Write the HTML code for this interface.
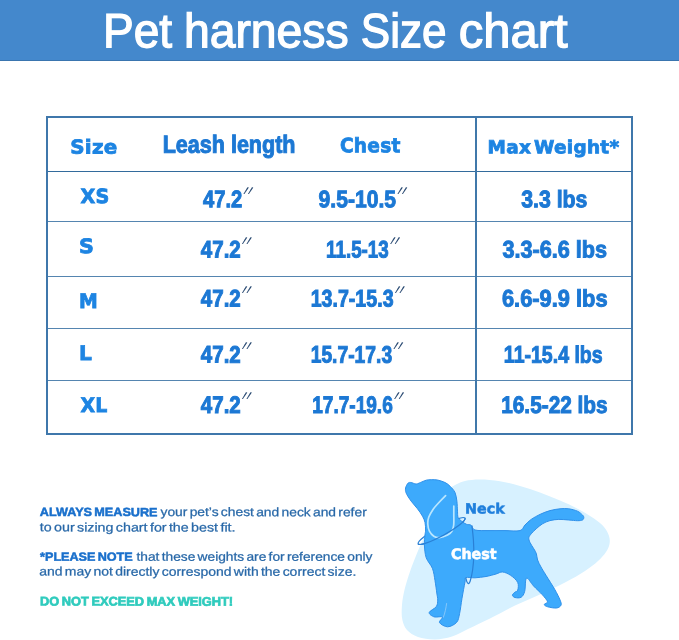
<!DOCTYPE html>
<html lang="en">
<head>
<meta charset="utf-8">
<title>Pet harness Size chart</title>
<style>
*{box-sizing:border-box}
html,body{margin:0;padding:0;background:#fff}
#page{position:relative;width:679px;height:640px;overflow:hidden;background:#fff;font-family:"Liberation Sans",sans-serif}
.bar{display:block;height:60.5px;background:#4488cc;border-bottom:1.5px solid #3a75af}
.t{position:absolute;left:0;top:0;margin:0;padding:0;line-height:1;white-space:nowrap;transform-origin:0 0;font-weight:400}
.notes p{margin:0}
h1{margin:0;font-size:48px;font-weight:400}
.frame{position:absolute;left:46px;top:116px;width:587px;height:319px;border:2px solid #3f77ab}
.hl{position:absolute;left:48px;width:583px;height:1px;background:#5585b0}
.vl{position:absolute;left:475px;top:118px;width:2px;height:316px;background:#4078aa}
.dog{position:absolute;left:390px;top:460px;width:240px;height:180px;margin:0}
.dog svg{display:block}
</style>
</head>
<body>
<div id="page">
<header class="bar">
<h1>
<span class="t" style="font-size:48.22px;transform:translate(103.1px,6.27px) rotate(0.05deg) scaleX(0.954);font-family:'Liberation Sans', sans-serif;font-weight:400;color:#fff;-webkit-text-stroke:1.3px #fff;">Pet</span>
<span class="t" style="font-size:48.22px;transform:translate(183.96px,6.27px) rotate(0.05deg) scaleX(0.9604);font-family:'Liberation Sans', sans-serif;font-weight:400;color:#fff;-webkit-text-stroke:1.3px #fff;">harness</span>
<span class="t" style="font-size:48.22px;transform:translate(360.83px,6.27px) rotate(0.05deg) scaleX(0.9135);font-family:'Liberation Sans', sans-serif;font-weight:400;color:#fff;-webkit-text-stroke:1.3px #fff;">Size</span>
<span class="t" style="font-size:48.22px;transform:translate(458.83px,6.27px) rotate(0.05deg) scaleX(1.0155);font-family:'Liberation Sans', sans-serif;font-weight:400;color:#fff;-webkit-text-stroke:1.3px #fff;">chart</span>
</h1>
</header>
<section class="chart">
<div class="frame"></div>
<div class="hl" style="top:170.5px;height:1.7px;background:#336b9c"></div>
<div class="hl" style="top:221px"></div>
<div class="hl" style="top:276px"></div>
<div class="hl" style="top:328px"></div>
<div class="hl" style="top:380px"></div>
<div class="vl"></div>
<div class="thead">
<div class="t" style="font-size:19.1px;transform:translate(70.16px,137.41px) rotate(0.05deg) scaleX(1.0423);font-family:'DejaVu Sans', 'Liberation Sans', sans-serif;font-weight:700;color:#1d84e2;-webkit-text-stroke:0.8px #1d84e2;letter-spacing:0.3px;">Size</div>
<div class="t" style="font-size:24.75px;transform:translate(162.71px,132.71px) rotate(0.05deg) scaleX(0.8699);font-family:'Liberation Sans', sans-serif;font-weight:700;color:#1c78d4;-webkit-text-stroke:1.0px #1c78d4;">Leash length</div>
<div class="t" style="font-size:19.81px;transform:translate(339.93px,136.21px) rotate(0.05deg) scaleX(0.9375);font-family:'DejaVu Sans', 'Liberation Sans', sans-serif;font-weight:700;color:#1d84e2;-webkit-text-stroke:0.8px #1d84e2;letter-spacing:0.3px;">Chest</div>
<div class="t" style="font-size:18.0px;transform:translate(487.52px,138.21px) rotate(0.05deg) scaleX(1.0248);font-family:'DejaVu Sans', 'Liberation Sans', sans-serif;font-weight:700;color:#1d84e2;-webkit-text-stroke:0.8px #1d84e2;letter-spacing:0.3px;word-spacing:-3.8px;">Max Weight*</div>
</div>
<div class="row">
<div class="t" style="font-size:19.55px;transform:translate(80.45px,187.01px) rotate(0.05deg) scaleX(0.9809);font-family:'DejaVu Sans', 'Liberation Sans', sans-serif;font-weight:700;color:#1d84e2;-webkit-text-stroke:0.8px #1d84e2;letter-spacing:0.3px;">XS</div>
<div class="t" style="font-size:23.87px;transform:translate(203.01px,187.21px) rotate(0.05deg) scaleX(0.8454);font-family:'Liberation Sans', sans-serif;font-weight:700;color:#1c78d4;-webkit-text-stroke:1.0px #1c78d4;">47.2</div>
<div class="t dp" style="font-size:23.64px;transform:translate(247.9px,184.62px) rotate(0.05deg) scaleX(0.5486) skewX(-44deg);font-family:'Liberation Sans', sans-serif;font-weight:400;color:#173a66;-webkit-text-stroke:0.4px #173a66;letter-spacing:3.7px;">′′</div>
<div class="t" style="font-size:23.87px;transform:translate(318.58px,187.21px) rotate(0.05deg) scaleX(0.8851);font-family:'Liberation Sans', sans-serif;font-weight:700;color:#1c78d4;-webkit-text-stroke:1.0px #1c78d4;">9.5-10.5</div>
<div class="t dp" style="font-size:23.64px;transform:translate(401.8px,184.62px) rotate(0.05deg) scaleX(0.5486) skewX(-44deg);font-family:'Liberation Sans', sans-serif;font-weight:400;color:#173a66;-webkit-text-stroke:0.4px #173a66;letter-spacing:3.7px;">′′</div>
<div class="t" style="font-size:23.87px;transform:translate(521.2px,187.21px) rotate(0.05deg) scaleX(0.8908);font-family:'Liberation Sans', sans-serif;font-weight:700;color:#1c78d4;-webkit-text-stroke:1.0px #1c78d4;">3.3 lbs</div>
</div>
<div class="row">
<div class="t" style="font-size:19.81px;transform:translate(78.96px,237.11px) rotate(0.05deg) scaleX(1.0449);font-family:'DejaVu Sans', 'Liberation Sans', sans-serif;font-weight:700;color:#1d84e2;-webkit-text-stroke:0.8px #1d84e2;letter-spacing:0.3px;">S</div>
<div class="t" style="font-size:23.87px;transform:translate(200.82px,237.41px) rotate(0.05deg) scaleX(0.8605);font-family:'Liberation Sans', sans-serif;font-weight:700;color:#1c78d4;-webkit-text-stroke:1.0px #1c78d4;">47.2</div>
<div class="t dp" style="font-size:23.64px;transform:translate(246.4px,234.82px) rotate(0.05deg) scaleX(0.5486) skewX(-44deg);font-family:'Liberation Sans', sans-serif;font-weight:400;color:#173a66;-webkit-text-stroke:0.4px #173a66;letter-spacing:3.7px;">′′</div>
<div class="t" style="font-size:23.87px;transform:translate(326.11px,237.41px) rotate(0.05deg) scaleX(0.7872);font-family:'Liberation Sans', sans-serif;font-weight:700;color:#1c78d4;-webkit-text-stroke:1.0px #1c78d4;">11.5-13</div>
<div class="t dp" style="font-size:23.64px;transform:translate(394.5px,234.82px) rotate(0.05deg) scaleX(0.5486) skewX(-44deg);font-family:'Liberation Sans', sans-serif;font-weight:400;color:#173a66;-webkit-text-stroke:0.4px #173a66;letter-spacing:3.7px;">′′</div>
<div class="t" style="font-size:23.87px;transform:translate(502.4px,237.41px) rotate(0.05deg) scaleX(0.907);font-family:'Liberation Sans', sans-serif;font-weight:700;color:#1c78d4;-webkit-text-stroke:1.0px #1c78d4;">3.3-6.6 lbs</div>
</div>
<div class="row">
<div class="t" style="font-size:20.0px;transform:translate(78.99px,291.11px) rotate(0.05deg) scaleX(0.9412);font-family:'DejaVu Sans', 'Liberation Sans', sans-serif;font-weight:700;color:#1d84e2;-webkit-text-stroke:0.8px #1d84e2;letter-spacing:0.3px;">M</div>
<div class="t" style="font-size:23.87px;transform:translate(200.82px,286.41px) rotate(0.05deg) scaleX(0.8605);font-family:'Liberation Sans', sans-serif;font-weight:700;color:#1c78d4;-webkit-text-stroke:1.0px #1c78d4;">47.2</div>
<div class="t dp" style="font-size:23.64px;transform:translate(246.4px,283.82px) rotate(0.05deg) scaleX(0.5486) skewX(-44deg);font-family:'Liberation Sans', sans-serif;font-weight:400;color:#173a66;-webkit-text-stroke:0.4px #173a66;letter-spacing:3.7px;">′′</div>
<div class="t" style="font-size:23.87px;transform:translate(310.68px,286.41px) rotate(0.05deg) scaleX(0.8221);font-family:'Liberation Sans', sans-serif;font-weight:700;color:#1c78d4;-webkit-text-stroke:1.0px #1c78d4;">13.7-15.3</div>
<div class="t dp" style="font-size:23.64px;transform:translate(399.3px,283.82px) rotate(0.05deg) scaleX(0.5486) skewX(-44deg);font-family:'Liberation Sans', sans-serif;font-weight:400;color:#173a66;-webkit-text-stroke:0.4px #173a66;letter-spacing:3.7px;">′′</div>
<div class="t" style="font-size:23.87px;transform:translate(501.94px,286.41px) rotate(0.05deg) scaleX(0.9153);font-family:'Liberation Sans', sans-serif;font-weight:700;color:#1c78d4;-webkit-text-stroke:1.0px #1c78d4;">6.6-9.9 lbs</div>
</div>
<div class="row">
<div class="t" style="font-size:20.07px;transform:translate(78.99px,343.11px) rotate(0.05deg) scaleX(1.0044);font-family:'DejaVu Sans', 'Liberation Sans', sans-serif;font-weight:700;color:#1d84e2;-webkit-text-stroke:0.8px #1d84e2;letter-spacing:0.3px;">L</div>
<div class="t" style="font-size:23.87px;transform:translate(200.82px,342.61px) rotate(0.05deg) scaleX(0.8605);font-family:'Liberation Sans', sans-serif;font-weight:700;color:#1c78d4;-webkit-text-stroke:1.0px #1c78d4;">47.2</div>
<div class="t dp" style="font-size:23.64px;transform:translate(246.4px,340.02px) rotate(0.05deg) scaleX(0.5486) skewX(-44deg);font-family:'Liberation Sans', sans-serif;font-weight:400;color:#173a66;-webkit-text-stroke:0.4px #173a66;letter-spacing:3.7px;">′′</div>
<div class="t" style="font-size:23.87px;transform:translate(310.69px,342.61px) rotate(0.05deg) scaleX(0.808);font-family:'Liberation Sans', sans-serif;font-weight:700;color:#1c78d4;-webkit-text-stroke:1.0px #1c78d4;">15.7-17.3</div>
<div class="t dp" style="font-size:23.64px;transform:translate(397.9px,340.02px) rotate(0.05deg) scaleX(0.5486) skewX(-44deg);font-family:'Liberation Sans', sans-serif;font-weight:400;color:#173a66;-webkit-text-stroke:0.4px #173a66;letter-spacing:3.7px;">′′</div>
<div class="t" style="font-size:23.87px;transform:translate(503.88px,342.61px) rotate(0.05deg) scaleX(0.8184);font-family:'Liberation Sans', sans-serif;font-weight:700;color:#1c78d4;-webkit-text-stroke:1.0px #1c78d4;">11-15.4 lbs</div>
</div>
<div class="row">
<div class="t" style="font-size:20.07px;transform:translate(80.44px,394.91px) rotate(0.05deg) scaleX(0.9426);font-family:'DejaVu Sans', 'Liberation Sans', sans-serif;font-weight:700;color:#1d84e2;-webkit-text-stroke:0.8px #1d84e2;letter-spacing:0.3px;">XL</div>
<div class="t" style="font-size:23.87px;transform:translate(200.82px,392.91px) rotate(0.05deg) scaleX(0.8605);font-family:'Liberation Sans', sans-serif;font-weight:700;color:#1c78d4;-webkit-text-stroke:1.0px #1c78d4;">47.2</div>
<div class="t dp" style="font-size:23.64px;transform:translate(246.4px,390.32px) rotate(0.05deg) scaleX(0.5486) skewX(-44deg);font-family:'Liberation Sans', sans-serif;font-weight:400;color:#173a66;-webkit-text-stroke:0.4px #173a66;letter-spacing:3.7px;">′′</div>
<div class="t" style="font-size:23.87px;transform:translate(312.2px,392.91px) rotate(0.05deg) scaleX(0.799);font-family:'Liberation Sans', sans-serif;font-weight:700;color:#1c78d4;-webkit-text-stroke:1.0px #1c78d4;">17.7-19.6</div>
<div class="t dp" style="font-size:23.64px;transform:translate(398.5px,390.32px) rotate(0.05deg) scaleX(0.5486) skewX(-44deg);font-family:'Liberation Sans', sans-serif;font-weight:400;color:#173a66;-webkit-text-stroke:0.4px #173a66;letter-spacing:3.7px;">′′</div>
<div class="t" style="font-size:23.87px;transform:translate(501.23px,392.91px) rotate(0.05deg) scaleX(0.8722);font-family:'Liberation Sans', sans-serif;font-weight:700;color:#1c78d4;-webkit-text-stroke:1.0px #1c78d4;">16.5-22 lbs</div>
</div>
</section>
<section class="notes">
<p>
<b class="t" style="font-size:11.86px;transform:translate(39.8px,507.05px) rotate(0.05deg) scaleX(1.0667);font-family:'Liberation Sans', sans-serif;font-weight:700;color:#1a70cc;-webkit-text-stroke:0.5px #1a70cc;word-spacing:-1.2px;">ALWAYS MEASURE</b>
<span class="t" style="font-size:12.29px;transform:translate(160.5px,506.05px) rotate(0.05deg) scaleX(1.1258);font-family:'Liberation Sans', sans-serif;font-weight:400;color:#2868a8;-webkit-text-stroke:0.25px #2868a8;word-spacing:-1.4px;">your pet’s chest and neck and refer</span>
<span class="t" style="font-size:12.29px;transform:translate(39.8px,521.35px) rotate(0.05deg) scaleX(1.1623);font-family:'Liberation Sans', sans-serif;font-weight:400;color:#2868a8;-webkit-text-stroke:0.25px #2868a8;word-spacing:-1.4px;">to our sizing chart for the best fit.</span>
</p>
<p>
<b class="t" style="font-size:11.86px;transform:translate(40.07px,551.65px) rotate(0.05deg) scaleX(1.0636);font-family:'Liberation Sans', sans-serif;font-weight:700;color:#1a70cc;-webkit-text-stroke:0.5px #1a70cc;word-spacing:-1.2px;">*PLEASE NOTE</b>
<span class="t" style="font-size:12.29px;transform:translate(136.5px,550.65px) rotate(0.05deg) scaleX(1.1198);font-family:'Liberation Sans', sans-serif;font-weight:400;color:#2868a8;-webkit-text-stroke:0.25px #2868a8;word-spacing:-1.4px;">that these weights are for reference only</span>
<span class="t" style="font-size:12.29px;transform:translate(39.23px,565.55px) rotate(0.05deg) scaleX(1.1369);font-family:'Liberation Sans', sans-serif;font-weight:400;color:#2868a8;-webkit-text-stroke:0.25px #2868a8;word-spacing:-1.4px;">and may not directly correspond with the correct size.</span>
</p>
<p>
<b class="t" style="font-size:12.56px;transform:translate(40.09px,595.55px) rotate(0.05deg) scaleX(1.021);font-family:'Liberation Sans', sans-serif;font-weight:700;color:#2fcbbd;-webkit-text-stroke:0.7px #2fcbbd;word-spacing:-1px;">DO NOT EXCEED MAX WEIGHT!</b>
</p>
</section>
<figure class="dog">
<svg width="240" height="180" viewBox="390 460 240 180" role="img" aria-label="Dog with neck and chest measuring points">
<path fill="#d7f1ff" d="M456.0 484.5 C459.0 482.9 461.0 481.8 465.0 481.0 C469.0 480.2 474.2 479.6 480.0 479.6 C485.8 479.6 493.3 480.1 500.0 481.2 C506.7 482.3 513.3 484.1 520.0 486.0 C526.7 487.9 533.3 490.2 540.0 492.6 C546.7 495.0 553.7 497.9 560.0 500.6 C566.3 503.3 572.3 506.0 578.0 509.0 C583.7 512.0 589.7 515.5 594.0 518.5 C598.3 521.5 601.5 524.1 604.0 527.0 C606.5 529.9 608.1 533.2 609.0 536.0 C609.9 538.8 610.0 541.3 609.5 544.0 C609.0 546.7 607.9 549.2 606.0 552.0 C604.1 554.8 601.5 557.8 598.0 561.0 C594.5 564.2 590.5 567.4 585.0 571.0 C579.5 574.6 572.5 578.6 565.0 582.5 C557.5 586.4 548.3 590.7 540.0 594.5 C531.7 598.3 523.3 601.5 515.0 605.5 C506.7 609.5 497.8 614.6 490.0 618.5 C482.2 622.4 474.3 626.0 468.0 629.0 C461.7 632.0 457.5 634.8 452.0 636.5 C446.5 638.2 440.7 639.4 435.0 639.5 C429.3 639.6 422.7 638.6 418.0 637.0 C413.3 635.4 409.6 632.8 407.0 630.0 C404.4 627.2 403.3 623.7 402.4 620.0 C401.5 616.3 401.6 612.3 401.8 608.0 C402.0 603.7 402.5 599.3 403.6 594.0 C404.7 588.7 406.5 582.2 408.5 576.0 C410.5 569.8 412.9 563.5 415.5 557.0 C418.1 550.5 421.2 543.5 424.0 537.0 C426.8 530.5 429.3 524.0 432.0 518.0 C434.7 512.0 437.5 505.6 440.0 501.0 C442.5 496.4 444.3 493.2 447.0 490.5 C449.7 487.8 453.0 486.1 456.0 484.5 Z"/>
<ellipse transform="translate(441.6 531) rotate(-28.7)" cx="0" cy="0" rx="26.7" ry="4.6" fill="none" stroke="#2a80d6" stroke-width="1.3"/>
<path fill="#3daafc" stroke="#2e90ea" stroke-width="1" stroke-linejoin="round" d="M408.1 483.1 C409.0 482.2 409.9 482.4 411.2 482.5 C412.5 482.6 414.4 484.1 416.2 484.0 C418.0 483.9 420.2 482.5 421.9 481.9 C423.6 481.3 424.6 480.6 426.2 480.2 C427.8 479.8 429.3 479.7 431.2 479.7 C433.1 479.7 435.2 479.5 437.5 480.0 C439.8 480.5 442.9 481.5 445.0 482.5 C447.1 483.5 448.3 484.5 450.0 486.2 C451.7 487.9 453.9 490.0 455.0 492.5 C456.1 495.0 456.5 498.1 456.9 501.2 C457.3 504.3 457.3 508.5 457.5 511.2 C457.7 513.9 457.4 515.8 458.1 517.5 C458.9 519.2 460.6 520.4 462.0 521.5 C463.4 522.6 465.0 523.7 466.5 524.3 C468.0 524.9 469.6 524.2 471.0 525.2 C472.4 526.2 471.8 529.1 475.0 530.0 C478.2 530.9 485.0 530.5 490.0 530.6 C495.0 530.7 500.0 530.6 505.0 530.6 C510.0 530.6 516.7 531.5 520.0 530.6 C523.3 529.7 523.1 526.9 525.0 525.0 C526.9 523.1 528.7 521.2 531.2 519.4 C533.7 517.6 536.9 515.9 540.0 514.4 C543.1 512.9 546.7 511.5 550.0 510.6 C553.3 509.7 556.9 509.1 560.0 508.8 C563.1 508.5 565.9 508.4 568.8 508.8 C571.7 509.2 575.2 510.2 577.5 511.2 C579.8 512.2 581.5 514.0 582.5 515.0 C583.5 516.0 583.8 516.7 583.8 517.5 C583.8 518.3 583.5 519.5 582.5 520.0 C581.5 520.5 579.8 520.7 577.5 520.7 C575.2 520.7 571.9 520.2 568.8 520.0 C565.7 519.8 561.9 519.3 558.8 519.4 C555.7 519.5 552.7 519.9 550.0 520.6 C547.3 521.3 544.8 522.4 542.5 523.8 C540.2 525.2 538.1 527.1 536.2 528.8 C534.3 530.5 532.4 532.3 531.2 533.8 C530.0 535.3 529.0 536.3 528.8 537.8 C528.6 539.2 529.2 540.7 530.0 542.5 C530.8 544.3 532.7 546.9 533.8 548.8 C534.9 550.7 535.8 551.9 536.4 553.8 C537.0 555.7 536.8 557.8 537.6 560.0 C538.4 562.2 539.6 564.5 541.0 567.0 C542.4 569.5 543.7 571.5 546.0 575.3 C548.3 579.0 552.4 585.4 554.8 589.5 C557.1 593.6 559.1 597.5 560.1 600.1 C561.1 602.7 561.6 603.9 561.0 605.2 C560.4 606.5 558.8 607.7 556.6 608.0 C554.4 608.3 549.8 607.4 547.7 606.8 C545.6 606.2 544.2 605.3 544.2 604.5 C544.2 603.7 547.8 603.4 547.5 601.8 C547.2 600.2 544.7 597.4 542.4 594.8 C540.1 592.2 536.2 588.8 533.6 586.0 C531.0 583.2 528.0 577.3 526.5 578.2 C525.0 579.1 525.6 588.1 524.7 591.3 C523.8 594.5 522.8 596.2 521.2 597.2 C519.6 598.2 516.5 597.9 515.0 597.5 C513.5 597.1 512.4 596.0 512.4 595.1 C512.4 594.2 514.1 592.9 515.0 592.1 C515.9 591.3 517.2 591.8 517.7 590.2 C518.2 588.6 518.9 584.9 517.7 582.4 C516.5 579.9 513.1 577.0 510.6 575.3 C508.1 573.6 504.9 572.2 502.5 572.0 C500.1 571.8 498.8 573.2 496.0 574.0 C493.2 574.8 489.5 575.9 486.0 576.5 C482.5 577.1 478.3 577.6 475.0 577.8 C471.7 578.0 467.7 576.9 466.0 577.6 C464.3 578.3 465.7 578.5 465.0 582.0 C464.3 585.5 462.9 593.0 462.0 598.3 C461.1 603.5 460.5 609.5 459.6 613.5 C458.7 617.5 458.6 620.2 456.6 622.4 C454.6 624.6 450.5 626.8 447.6 626.8 C444.8 626.8 440.4 624.2 439.5 622.6 C438.6 621.0 443.4 618.0 442.5 617.0 C441.6 616.0 436.4 617.6 434.2 616.9 C432.0 616.1 428.8 614.2 429.2 612.5 C429.6 610.8 434.9 608.7 436.3 606.6 C437.7 604.5 437.6 602.4 437.7 600.1 C437.8 597.8 437.2 596.2 436.8 593.0 C436.4 589.8 435.7 584.7 435.0 580.6 C434.3 576.5 433.9 572.1 432.4 568.3 C430.9 564.5 427.5 561.6 426.2 557.7 C424.9 553.8 424.6 548.8 424.4 545.0 C424.2 541.2 424.8 537.5 425.0 535.0 C425.2 532.5 425.6 532.1 425.6 530.0 C425.6 527.9 425.5 524.8 425.0 522.5 C424.5 520.2 423.8 518.5 422.5 516.2 C421.2 513.9 419.4 511.3 417.5 508.8 C415.6 506.3 413.1 503.8 411.2 501.2 C409.3 498.6 407.1 495.3 406.2 493.1 C405.3 490.9 405.3 489.7 405.6 488.0 C405.9 486.3 407.2 484.0 408.1 483.1 Z"/>
<path fill="none" stroke="#8ccbfa" stroke-width="0.9" stroke-linecap="round" d="M446.6 603.5 C446 608 445 613 443.4 617.2"/>
<path fill="none" stroke="#b9e6ff" stroke-width="1.7" stroke-linecap="round" d="M445.6 495.6 C444.3 496.9 440.1 501.2 438.0 503.5 C435.9 505.8 434.5 507.2 433.0 509.5 C431.5 511.8 429.7 514.6 428.8 517.0 C427.9 519.4 427.7 521.6 427.8 524.0 C427.9 526.4 428.4 529.2 429.4 531.2 C430.4 533.2 432.1 535.1 433.8 536.2 C435.5 537.3 437.2 537.8 439.5 537.6 C441.8 537.4 445.4 536.1 447.5 535.0 C449.6 533.9 450.9 532.9 451.9 531.2 C452.9 529.5 453.4 527.7 453.7 525.0 C454.0 522.3 453.8 518.1 453.8 515.0 C453.8 511.9 453.8 507.7 453.8 506.2"/>
<path transform="translate(441.6 531) rotate(-28.7)" fill="none" stroke="#2a80d6" stroke-width="1.3" d="M-26.7 0 A26.7 4.6 0 0 0 26.7 0"/>
<path fill="none" stroke="#2a80d6" stroke-width="1.2" stroke-linecap="round" d="M472.0 525.8 C472.2 528.2 473.1 535.1 473.4 540.0 C473.7 544.9 473.9 550.0 473.8 555.0 C473.7 560.0 473.2 565.7 472.6 570.0 C472.0 574.3 470.9 578.7 470.2 581.0 C469.5 583.3 469.1 583.4 468.6 583.6 C468.1 583.8 467.5 582.9 467.0 582.0 C466.5 581.1 466.0 578.7 465.8 578.0"/>
</svg>
</figure>
<div class="t" style="font-size:14.14px;transform:translate(464.99px,501.55px) rotate(0.05deg) scaleX(1.0128);font-family:'DejaVu Sans', 'Liberation Sans', sans-serif;font-weight:700;color:#1f7fdc;-webkit-text-stroke:0.5px #1f7fdc;">Neck</div>
<div class="t" style="font-size:14.54px;transform:translate(451.01px,546.95px) rotate(0.05deg) scaleX(0.9783);font-family:'DejaVu Sans', 'Liberation Sans', sans-serif;font-weight:700;color:#fff;-webkit-text-stroke:0.6px #fff;">Chest</div>
</div>
</body>
</html>
